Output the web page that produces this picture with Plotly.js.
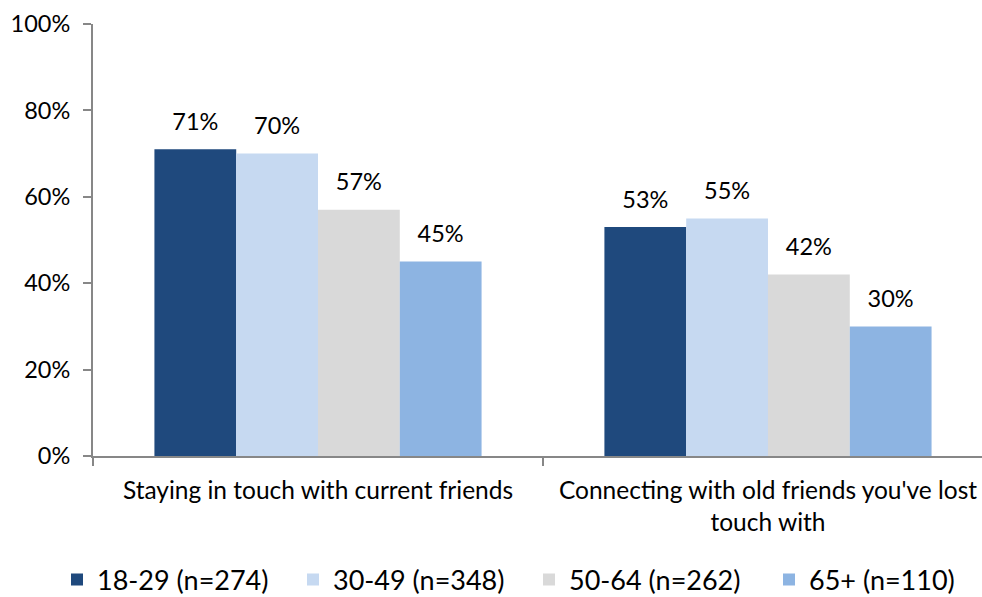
<!DOCTYPE html>
<html>
<head>
<meta charset="utf-8">
<script src="https://cdn.plot.ly/plotly-3.0.1.min.js"></script>
<style>html,body{margin:0;padding:0;background:#fff;}</style>
</head>
<body>
<div id="chart" style="width:982px;height:597px;"></div>
<script>
const categories = ["Staying in touch with current friends", "Connecting with old friends you've lost<br>touch with"];
const seriesNames = ["18-29 (n=274)", "30-49 (n=348)", "50-64 (n=262)", "65+ (n=110)"];
const seriesValues = [
  [71, 53],
  [70, 55],
  [57, 42],
  [45, 30]
];
const seriesColors = ["#1F497D", "#C6D9F1", "#D9D9D9", "#8DB4E2"];
const yTickVals = [0, 20, 40, 60, 80, 100];

const FONT = "Lato, 'Open Sans', sans-serif";
const GAP = 0.273;

const barTraces = seriesNames.map((name, i) => ({
  type: 'bar',
  name: name,
  x: categories,
  y: seriesValues[i],
  marker: {color: seriesColors[i], line: {width: 0}},
  legend: i === 3 ? 'legend2' : 'legend',
  hoverinfo: 'skip'
}));

const labelTraces = seriesNames.map((name, i) => ({
  type: 'scatter',
  mode: 'markers+text',
  name: name + ' labels',
  x: categories,
  y: seriesValues[i],
  marker: {size: 20, color: 'rgba(0,0,0,0)'},
  text: seriesValues[i].map(v => v + '%'),
  textposition: 'top center',
  textfont: {family: FONT, size: 23.5, color: '#000'},
  cliponaxis: false,
  showlegend: false,
  hoverinfo: 'skip'
}));

const legendCommon = {
  orientation: 'h',
  xref: 'container',
  yref: 'container',
  xanchor: 'left',
  y: (597 - 580) / 597,
  yanchor: 'middle',
  font: {family: FONT, size: 27, color: '#000'},
  entrywidth: 191,
  entrywidthmode: 'pixels',
  traceorder: 'normal'
};

const layout = {
  width: 982,
  height: 597,
  margin: {l: 93, r: 0, t: 24, b: 141},
  paper_bgcolor: '#fff',
  plot_bgcolor: '#fff',
  font: {family: FONT, size: 23.5, color: '#000'},
  barmode: 'group',
  bargap: GAP,
  bargroupgap: 0,
  scattermode: 'group',
  scattergap: GAP,
  showlegend: true,
  legend: Object.assign({}, legendCommon, {x: 57 / 982}),
  legend2: Object.assign({}, legendCommon, {x: 769 / 982}),
  xaxis: {
    type: 'category',
    range: [-0.5, 1.4756],
    showline: true,
    linecolor: '#878787',
    linewidth: 2,
    ticks: 'outside',
    ticklen: 8,
    tickwidth: 2,
    tickcolor: '#878787',
    tickson: 'boundaries',
    showgrid: false,
    zeroline: false,
    automargin: false,
    ticklabelstandoff: 12,
    tickfont: {family: FONT, size: 24.5, color: '#000'}
  },
  yaxis: {
    range: [0, 100],
    tickvals: yTickVals,
    ticktext: yTickVals.map(v => v + '%'),
    showline: true,
    linecolor: '#878787',
    linewidth: 2,
    ticks: 'outside',
    ticklen: 8,
    tickwidth: 2,
    tickcolor: '#878787',
    showgrid: false,
    zeroline: false,
    automargin: false,
    ticklabelstandoff: 8,
    tickfont: {family: FONT, size: 23.5, color: '#000'}
  }
};

Plotly.newPlot('chart', barTraces.concat(labelTraces), layout, {displayModeBar: false, staticPlot: true});
</script>
</body>
</html>
